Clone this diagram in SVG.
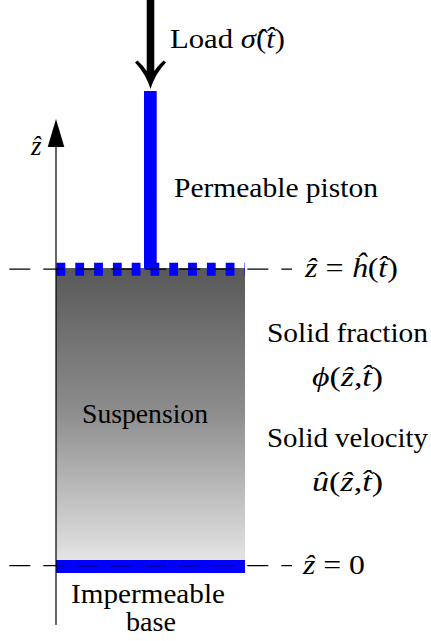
<svg xmlns="http://www.w3.org/2000/svg" width="431" height="641" viewBox="0 0 431 641">
<style>
text { font-family: "Liberation Serif", "DejaVu Serif", serif; font-size: 27px; fill: #000; }
.it { font-style: italic; }
.blue { fill: #0000ff; }
.dash { stroke: #000; stroke-width: 1.2; stroke-dasharray: 21 13; fill: none; }
</style>
<defs>
<linearGradient id="susp" x1="0" y1="0" x2="0" y2="1">
<stop offset="0" stop-color="#585858"/>
<stop offset="0.5" stop-color="#8e8e8e"/>
<stop offset="1" stop-color="#e4e4e4"/>
</linearGradient>
</defs>
<rect width="431" height="641" fill="#fff"/>

<g id="suspension">
<rect x="56" y="268" width="189" height="292" fill="url(#susp)"/>
<text x="145" y="423" text-anchor="middle" textLength="126" lengthAdjust="spacingAndGlyphs">Suspension</text>
</g>

<g id="piston">
<rect class="blue" x="144" y="91" width="12.7" height="178"/>
<line x1="56.5" y1="269.2" x2="245" y2="269.2" stroke="#0000ff" stroke-width="13" stroke-dasharray="8.8 10"/>
<text x="174" y="197" textLength="204" lengthAdjust="spacingAndGlyphs">Permeable piston</text>
</g>

<g id="base">
<rect class="blue" x="56" y="560" width="189" height="13"/>
<text x="148" y="603" text-anchor="middle" textLength="154" lengthAdjust="spacingAndGlyphs">Impermeable</text>
<text x="151" y="631" text-anchor="middle" textLength="50" lengthAdjust="spacingAndGlyphs">base</text>
</g>

<g id="load">
<path d="M150.5,89 Q146,74 135,62.5 L137.5,60.5 Q143.5,66 146.7,71 L146.7,0 L154.3,0 L154.3,71 Q157.5,66 163.5,60.5 L166,62.5 Q155,74 150.5,89 Z" fill="#000"/>
<text x="170" y="48" textLength="115" lengthAdjust="spacingAndGlyphs">Load <tspan class="it">σ̂</tspan>(<tspan class="it">t̂</tspan>)</text>
</g>

<g id="axis">
<line x1="56" y1="625" x2="56" y2="140" stroke="#000" stroke-width="1.2"/>
<path d="M56,119 L64.3,147 L47.7,147 Z" fill="#000"/>
<text class="it" x="31" y="155">ẑ</text>
</g>

<g id="connectors">
<line class="dash" x1="9.3" y1="269.2" x2="292" y2="269.2"/>
<line class="dash" x1="9.3" y1="565.7" x2="292" y2="565.7"/>
</g>

<g id="labels">
<text x="305" y="277" textLength="93" lengthAdjust="spacingAndGlyphs"><tspan class="it">ẑ</tspan> = <tspan class="it">ĥ</tspan>(<tspan class="it">t̂</tspan>)</text>
<text x="303" y="574" textLength="62" lengthAdjust="spacingAndGlyphs"><tspan class="it">ẑ</tspan> = 0</text>
<text x="347.5" y="342" text-anchor="middle" textLength="161" lengthAdjust="spacingAndGlyphs">Solid fraction</text>
<text x="347.5" y="386" text-anchor="middle" textLength="71" lengthAdjust="spacingAndGlyphs"><tspan class="it">ϕ</tspan>(<tspan class="it">ẑ</tspan>,<tspan class="it">t̂</tspan>)</text>
<text x="347.5" y="447" text-anchor="middle" textLength="161" lengthAdjust="spacingAndGlyphs">Solid velocity</text>
<text x="347.5" y="491" text-anchor="middle" textLength="71" lengthAdjust="spacingAndGlyphs"><tspan class="it">û</tspan>(<tspan class="it">ẑ</tspan>,<tspan class="it">t̂</tspan>)</text>
</g>
</svg>
